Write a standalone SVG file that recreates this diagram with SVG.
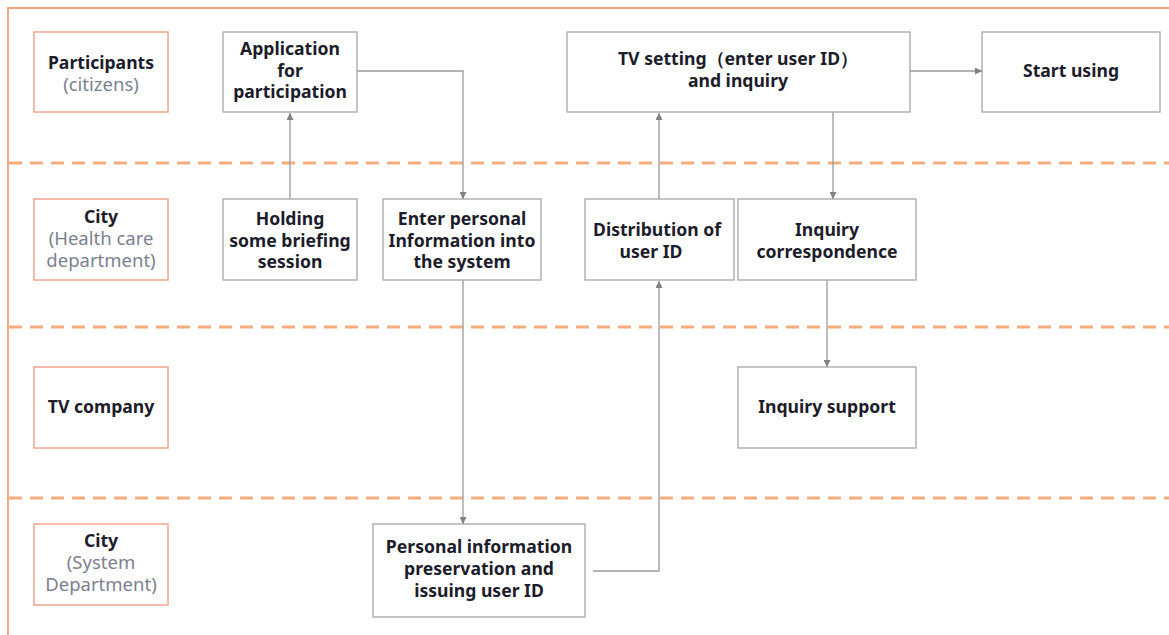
<svg xmlns="http://www.w3.org/2000/svg" width="1169" height="635" viewBox="0 0 1169 635">
<defs>
<marker id="ah" viewBox="0 0 10 10" refX="10" refY="5" markerWidth="7" markerHeight="7" markerUnits="userSpaceOnUse" orient="auto">
<path d="M0,0 L10,5 L0,10 z" fill="#808080"/>
</marker>
<style>
.frame{fill:none;stroke:#f2a27e;stroke-width:1.8}
.lane{fill:none;stroke:#f5ad7f;stroke-width:3;stroke-dasharray:13 8}
.lbl{fill:#fff;stroke:#f2a58e;stroke-width:1.5}
.box{fill:#fff;stroke:#a6a6a6;stroke-width:1.3}
.t{font-family:"Noto Sans","Open Sans",sans-serif;font-size:17.6px;font-weight:bold;fill:#1c1c2a;text-anchor:middle}
.s{font-family:"Noto Sans","Open Sans",sans-serif;font-size:18.5px;fill:#7d8090;text-anchor:middle}
.c{fill:none;stroke:#9a9a9a;stroke-width:1.3;marker-end:url(#ah)}
</style>
</defs>
<rect width="1169" height="635" fill="#fff"/>
<g id="frame">
<path class="frame" d="M1169,8 H8 V635"/>
<line class="lane" x1="9" y1="163" x2="1169" y2="163"/>
<line class="lane" x1="9" y1="327" x2="1169" y2="327"/>
<line class="lane" x1="9" y1="498" x2="1169" y2="498"/>
</g>
<g id="lane-participants">
<rect class="lbl" x="34" y="32" width="134" height="80"/>
<text class="t" x="101" y="69">Participants</text>
<text class="s" x="101" y="91">(citizens)</text>
</g>
<g id="lane-city-health">
<rect class="lbl" x="34" y="199" width="134" height="81"/>
<text class="t" x="101" y="223">City</text>
<text class="s" x="101" y="245">(Health care</text>
<text class="s" x="101" y="267">department)</text>
</g>
<g id="lane-tv">
<rect class="lbl" x="34" y="367" width="134" height="81"/>
<text class="t" x="101" y="413">TV company</text>
</g>
<g id="lane-city-system">
<rect class="lbl" x="34" y="524" width="134" height="81"/>
<text class="t" x="101" y="547">City</text>
<text class="s" x="101" y="569">(System</text>
<text class="s" x="101" y="591">Department)</text>
</g>
<g id="n-application">
<rect class="box" x="223" y="32" width="134" height="80"/>
<text class="t" x="290" y="55">Application</text>
<text class="t" x="290" y="77">for</text>
<text class="t" x="290" y="98">participation</text>
</g>
<g id="n-tvsetting">
<rect class="box" x="567" y="32" width="343" height="80"/>
<text class="t" x="738" y="65">TV setting（enter user ID）</text>
<text class="t" x="738" y="87">and inquiry</text>
</g>
<g id="n-start">
<rect class="box" x="982" y="32" width="178" height="80"/>
<text class="t" x="1071" y="77">Start using</text>
</g>
<g id="n-briefing">
<rect class="box" x="223" y="199" width="134" height="81"/>
<text class="t" x="290" y="225">Holding</text>
<text class="t" x="290" y="247">some briefing</text>
<text class="t" x="290" y="268">session</text>
</g>
<g id="n-enter">
<rect class="box" x="383" y="199" width="158" height="81"/>
<text class="t" x="462" y="225">Enter personal</text>
<text class="t" x="462" y="247">Information into</text>
<text class="t" x="462" y="268">the system</text>
</g>
<g id="n-distribution">
<rect class="box" x="585" y="199" width="149" height="81"/>
<text class="t" x="657" y="236">Distribution of</text>
<text class="t" x="651" y="258">user ID</text>
</g>
<g id="n-inqcorr">
<rect class="box" x="738" y="199" width="178" height="81"/>
<text class="t" x="827" y="236">Inquiry</text>
<text class="t" x="827" y="258">correspondence</text>
</g>
<g id="n-inqsupport">
<rect class="box" x="738" y="367" width="178" height="81"/>
<text class="t" x="827" y="413">Inquiry support</text>
</g>
<g id="n-personal">
<rect class="box" x="373" y="524" width="212" height="93"/>
<text class="t" x="479" y="553">Personal information</text>
<text class="t" x="479" y="575">preservation and</text>
<text class="t" x="479" y="597">issuing user ID</text>
</g>
<g id="connectors">
<path class="c" d="M290,199 V113"/>
<path class="c" d="M357,71 H463 V199"/>
<path class="c" d="M463,280 V524"/>
<path class="c" d="M593,571 H659 V281"/>
<path class="c" d="M659,199 V113"/>
<path class="c" d="M910,71 H982"/>
<path class="c" d="M833,112 V199"/>
<path class="c" d="M827,280 V367"/>
</g>
</svg>
